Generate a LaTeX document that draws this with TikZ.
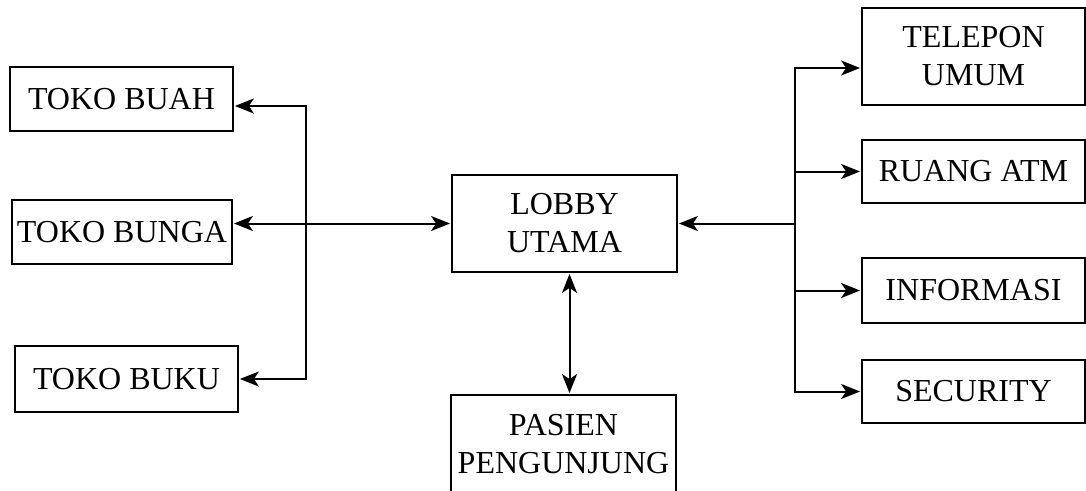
\documentclass[tikz,border=0pt]{standalone}
\usepackage{fontspec}
\setmainfont{Liberation Serif}
\usetikzlibrary{arrows.meta,positioning}

\begin{document}
\begin{tikzpicture}[x=1pt,y=-1pt,>={Stealth[length=19pt,width=15pt,inset=5pt]},
  line width=2pt,shorten >=1pt,
  box/.style={draw,line width=1.8pt,inner sep=0pt,align=center,
    font=\fontsize{32}{38}\selectfont}]
\useasboundingbox (0,0) rectangle (1086,490);
% left side
\node (buah) at (121.5,99) [box,minimum width=223pt,minimum height=64pt] {TOKO BUAH};
\node (bunga) at (122,232) [box,minimum width=220pt,minimum height=64pt] {TOKO BUNGA};
\node (buku) at (126.5,379) [box,minimum width=223pt,minimum height=66pt] {TOKO BUKU};
% middle
\node (lobby) at (564.5,223.5) [box,minimum width=225pt,minimum height=97pt] {LOBBY\\UTAMA};
\node (pasien) at (563.5,444) [box,minimum width=225pt,minimum height=98pt] {PASIEN\\PENGUNJUNG};
% right side
\node (telepon) at (973.5,56.5) [box,minimum width=223pt,minimum height=97pt] {TELEPON\\UMUM};
\node (atm) at (973.5,171.5) [box,minimum width=223pt,minimum height=63pt] {RUANG ATM};
\node (info) at (973.5,290.5) [box,minimum width=223pt,minimum height=65pt] {INFORMASI};
\node (security) at (973.5,391.5) [box,minimum width=223pt,minimum height=63pt] {SECURITY};
\coordinate (lb) at (306,223.5);
\coordinate (rb) at (795,223.5);
\begin{scope}
\draw [<->,shorten <=1pt] (lobby.west) -- (lobby.west -| bunga.east);
\draw [->] (lb) |- ([yshift=-7pt]buah.east);
\draw [->] (lb) |- (buku.east);
\draw [<->,shorten <=1pt] ([xshift=5pt]lobby.south) -- ([xshift=5pt]lobby.south |- pasien.north);
\draw [->] (rb) -- (lobby.east);
\draw [->] (rb) |- ([yshift=-11.5pt]telepon.west);
\draw [->] (rb) |- (atm.west);
\draw [->] (rb) |- (info.west);
\draw [->] (rb) |- (security.west);
\end{scope}
\end{tikzpicture}
\end{document}
